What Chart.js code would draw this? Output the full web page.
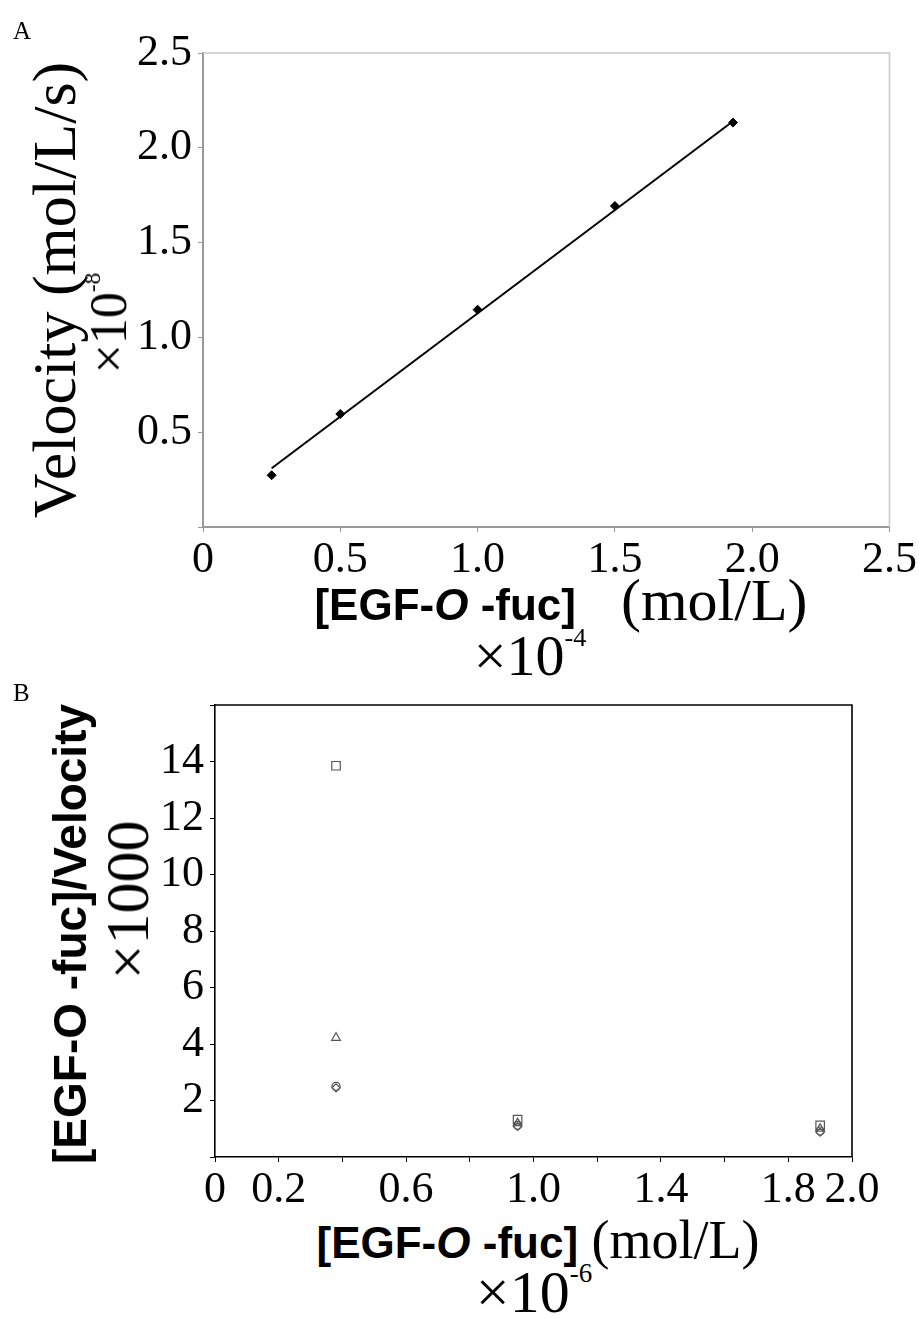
<!DOCTYPE html>
<html>
<head>
<meta charset="utf-8">
<script src="https://cdn.jsdelivr.net/npm/chart.js@4"></script>
<style>
body { margin:0; background:#fff; width:919px; height:1318px; position:relative; overflow:hidden; font-family:"Liberation Serif", serif; color:#000; }
.t { position:absolute; white-space:nowrap; line-height:1; }
.rot { transform:translate(-50%,-50%) rotate(-90deg); }
.ctr { transform:translate(-50%,-50%); }
.b { font-family:"Liberation Sans", Arial, sans-serif; font-weight:bold; }
sup { font-size:45%; vertical-align:top; position:relative; top:-2px; }
canvas { position:absolute; left:0; }
</style>
</head>
<body>

<canvas id="chartA" width="919" height="580" style="top:0"></canvas>
<canvas id="chartB" width="919" height="550" style="top:660px"></canvas>

<div class="t" style="left:13px;top:18px;font-size:25px">A</div>
<div class="t rot" style="left:54px;top:290px;font-size:62px">Velocity (mol/L/s)</div>
<div class="t rot" style="left:109px;top:323px;font-size:52px">&times;10<sup>-8</sup></div>
<div class="t ctr" style="left:561px;top:600px;font-size:60px"><span class="b" style="font-size:44px">[EGF-<i>O</i> -fuc]</span>&nbsp;&nbsp; (mol/L)</div>
<div class="t ctr" style="left:530px;top:656px;font-size:58px">&times;10<sup>-4</sup></div>

<div class="t" style="left:13px;top:680px;font-size:25px">B</div>
<div class="t rot b" style="left:70px;top:934px;font-size:46px">[EGF-O -fuc]/Velocity</div>
<div class="t rot" style="left:127px;top:900px;font-size:62px">&times;1000</div>
<div class="t ctr" style="left:538px;top:1240px;font-size:54px"><span class="b" style="font-size:44px">[EGF-<i>O</i> -fuc]</span> (mol/L)</div>
<div class="t ctr" style="left:534px;top:1292px;font-size:60px">&times;10<sup>-6</sup></div>

<script>
// panel A: velocity vs substrate (x 1e-4 mol/L, y 1e-8 mol/L/s)
var concA = [0.25, 0.5, 1.0, 1.5, 1.93];
var velA = [0.273, 0.596, 1.146, 1.693, 2.133];
var fitX = [0.25, 1.93];
var fitY = [0.31, 2.14];

// panel B: [S]/v vs [S] (x 1e-6 mol/L, y x1000)
var concB = [0.38, 0.95, 1.9];
var ratioSquare = [13.85, 1.32, 1.12];
var ratioTriangle = [4.22, 1.2, 1.0];
var ratioCircle = [2.5, 1.12, 0.92];
var ratioDiamond = [2.45, 1.08, 0.88];
var xLabelsB = [0, 0.2, 0.6, 1.0, 1.4, 1.8, 2.0];

var serif = 'Liberation Serif';

// draws top + right edge of the plot box
var frame = {
    id: 'frame',
    afterDraw: function(chart, args, opts) {
        var a = chart.chartArea, ctx = chart.ctx;
        ctx.save();
        ctx.strokeStyle = opts.color;
        ctx.lineWidth = opts.width;
        ctx.beginPath();
        ctx.moveTo(a.left, a.top);
        ctx.lineTo(a.right, a.top);
        ctx.lineTo(a.right, a.bottom);
        ctx.stroke();
        ctx.restore();
    }
};

function pts(xs, ys) {
    return xs.map(function(x, i) { return {x: x, y: ys[i]}; });
}

new Chart(document.getElementById('chartA'), {
    type: 'scatter',
    data: {
        datasets: [{
            data: pts(concA, velA),
            pointStyle: 'rectRot',
            pointRadius: 4.5,
            backgroundColor: '#000',
            borderColor: '#000',
            borderWidth: 1
        }, {
            type: 'line',
            data: pts(fitX, fitY),
            borderColor: '#000',
            borderWidth: 2,
            pointRadius: 0
        }]
    },
    plugins: [frame],
    options: {
        responsive: false,
        animation: false,
        layout: { padding: { top: 53, right: 29, left: 0, bottom: 0 } },
        plugins: {
            legend: { display: false },
            tooltip: { enabled: false },
            frame: { color: '#c8c8c8', width: 1.5 }
        },
        scales: {
            x: {
                type: 'linear', min: 0, max: 2.5,
                afterFit: function(s) { s.height = 53; },
                ticks: {
                    stepSize: 0.5, autoSkip: false, maxRotation: 0, padding: 2,
                    color: '#000', font: { family: serif, size: 44 },
                    callback: function(v) { return v === 0 ? '0' : v.toFixed(1); }
                },
                grid: { drawOnChartArea: false, color: '#999', tickLength: 5 },
                border: { color: '#999', width: 2 }
            },
            y: {
                type: 'linear', min: 0, max: 2.5,
                afterFit: function(s) { s.width = 203; },
                ticks: {
                    stepSize: 0.5, padding: 6,
                    color: '#000', font: { family: serif, size: 44 },
                    callback: function(v) { return v === 0 ? '' : v.toFixed(1); }
                },
                grid: { drawOnChartArea: false, color: '#999', tickLength: 5 },
                border: { color: '#999', width: 2 }
            }
        }
    }
});

function markerSet(ys, style, r) {
    return {
        data: pts(concB, ys),
        pointStyle: style,
        pointRadius: r,
        backgroundColor: 'rgba(255,255,255,0)',
        borderColor: '#555',
        borderWidth: 1.2
    };
}

new Chart(document.getElementById('chartB'), {
    type: 'scatter',
    data: {
        datasets: [
            markerSet(ratioSquare, 'rect', 6),
            markerSet(ratioTriangle, 'triangle', 5),
            markerSet(ratioCircle, 'circle', 4),
            markerSet(ratioDiamond, 'rectRot', 4)
        ]
    },
    plugins: [frame],
    options: {
        responsive: false,
        animation: false,
        layout: { padding: { top: 45, right: 67, left: 0, bottom: 0 } },
        plugins: {
            legend: { display: false },
            tooltip: { enabled: false },
            frame: { color: '#000', width: 1.6 }
        },
        scales: {
            x: {
                type: 'linear', min: 0, max: 2,
                afterFit: function(s) { s.height = 53; },
                ticks: {
                    stepSize: 0.2, autoSkip: false, maxRotation: 0, padding: 2,
                    color: '#000', font: { family: serif, size: 44 },
                    callback: function(v) {
                        var r = Math.round(v * 10) / 10;
                        if (xLabelsB.indexOf(r) < 0) return '';
                        return r === 0 ? '0' : r.toFixed(1);
                    }
                },
                grid: { drawOnChartArea: false, color: '#000', tickLength: 5 },
                border: { color: '#000', width: 1.6 }
            },
            y: {
                type: 'linear', min: 0, max: 16,
                afterFit: function(s) { s.width = 215; },
                ticks: {
                    stepSize: 2, padding: 6,
                    color: '#000', font: { family: serif, size: 44 },
                    callback: function(v) { return (v === 0 || v === 16) ? '' : String(v); }
                },
                grid: { drawOnChartArea: false, color: '#000', tickLength: 5 },
                border: { color: '#000', width: 1.6 }
            }
        }
    }
});
</script>
</body>
</html>
